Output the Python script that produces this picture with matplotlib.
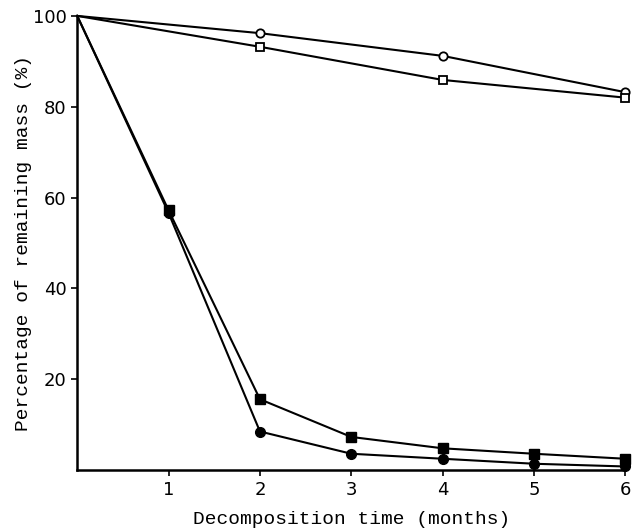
import matplotlib
matplotlib.use('Agg')
import matplotlib.pyplot as plt

# ── Data ──
months_open = [0, 2, 4, 6]
open_circle = [100, 96.2, 91.2, 83.2]
open_square = [100, 93.2, 85.9, 82.0]

months_solid = [0, 1, 2, 3, 4, 5, 6]
solid_square = [100, 57.2, 15.6, 7.3, 4.8, 3.6, 2.5]
solid_circle = [100, 56.6, 8.5, 3.6, 2.5, 1.4, 0.8]

x_ticks = [1, 2, 3, 4, 5, 6]
y_ticks = [20, 40, 60, 80, 100]

fig = plt.figure(figsize=(6.33, 5.30), dpi=100)
ax = fig.add_axes([0.122, 0.113, 0.866, 0.857])

line_kw = dict(color='black', linewidth=1.5, clip_on=False, zorder=3)
ax.plot(months_open, open_circle, marker='o', markersize=6,
        markerfacecolor='white', markeredgecolor='black', markeredgewidth=1.3,
        markevery=[1, 2, 3], **line_kw)
ax.plot(months_open, open_square, marker='s', markersize=5.5,
        markerfacecolor='white', markeredgecolor='black', markeredgewidth=1.3,
        markevery=[1, 2, 3], **line_kw)
ax.plot(months_solid, solid_square, marker='s', markersize=7,
        markerfacecolor='black', markeredgecolor='black',
        markevery=list(range(1, 7)), **line_kw)
ax.plot(months_solid, solid_circle, marker='o', markersize=7,
        markerfacecolor='black', markeredgecolor='black',
        markevery=list(range(1, 7)), **line_kw)

ax.set_xlim(0, 6)
ax.set_ylim(0, 100)
ax.set_xticks(x_ticks)
ax.set_yticks(y_ticks)
ax.tick_params(axis='both', direction='out', length=4, width=1.2,
               labelsize=13, colors='black')
for lab in ax.get_xticklabels() + ax.get_yticklabels():
    lab.set_family('DejaVu Sans')

ax.spines['top'].set_visible(False)
ax.spines['right'].set_visible(False)
ax.spines['left'].set_linewidth(1.8)
ax.spines['bottom'].set_linewidth(1.8)

ax.set_xlabel('Decomposition time (months)', fontsize=14,
              family='Liberation Mono', labelpad=9)
ax.set_ylabel('Percentage of remaining mass (%)', fontsize=14,
              family='Liberation Mono', labelpad=1)

fig.savefig('out.png', dpi=100)
